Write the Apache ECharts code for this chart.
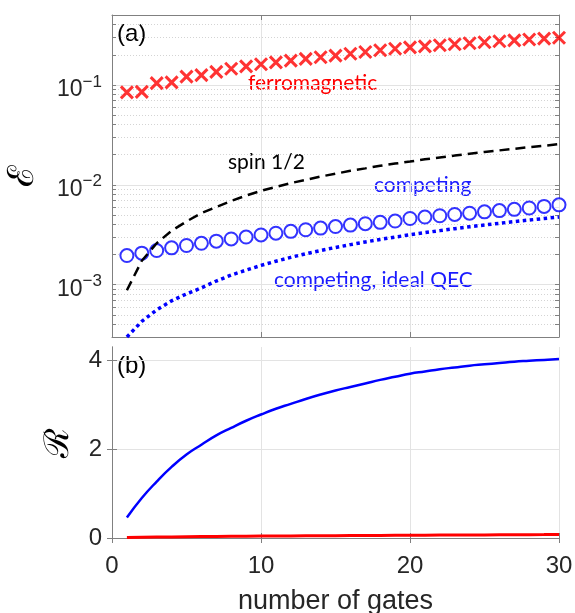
<!DOCTYPE html>
<html>
<head>
<meta charset="utf-8">
<script src="https://cdn.jsdelivr.net/npm/echarts@6/dist/echarts.min.js"></script>
<style>
  html, body { margin: 0; padding: 0; background: #fff; }
  #chart { width: 575px; height: 613px; }
</style>
</head>
<body>
<div id="chart"></div>
<script>
// number of gates
var gates = [1, 2, 3, 4, 5, 6, 7, 8, 9, 10, 11, 12, 13, 14, 15, 16, 17, 18, 19, 20, 21, 22, 23, 24, 25, 26, 27, 28, 29, 30]

// (a) error per gate
var ferromagnetic = [0.084, 0.085, 0.104, 0.106, 0.121, 0.125, 0.135, 0.145, 0.153, 0.161, 0.168, 0.175, 0.182, 0.189, 0.196,
  0.205, 0.213, 0.222, 0.23, 0.237, 0.243, 0.249, 0.255, 0.261, 0.267, 0.273, 0.279, 0.284, 0.29, 0.296]
var competing = [0.00196, 0.00207, 0.0022, 0.00234, 0.00247, 0.0026, 0.00273, 0.00287, 0.003, 0.00315, 0.00328, 0.00342, 0.00355, 0.00369, 0.00382,
  0.00395, 0.00408, 0.00421, 0.00434, 0.0046, 0.00476, 0.0049, 0.00505, 0.0052, 0.00536, 0.00552, 0.00568, 0.00586, 0.00608, 0.0063]
var spinHalf = [0.00088, 0.00174, 0.0026, 0.00347, 0.0043, 0.0052, 0.006, 0.0069, 0.0078, 0.0087, 0.0095, 0.0104, 0.0112, 0.0121, 0.0129,
  0.0138, 0.0146, 0.0155, 0.0163, 0.0171, 0.018, 0.0188, 0.0196, 0.0205, 0.0213, 0.0221, 0.0229, 0.0238, 0.0246, 0.0255]
var competingIdealQEC = [0.0003, 0.00043, 0.00056, 0.00069, 0.00081, 0.00093, 0.00109, 0.00125, 0.0014, 0.00156, 0.00172, 0.00188, 0.00204, 0.0022, 0.00236,
  0.00252, 0.00268, 0.00284, 0.003, 0.00316, 0.00332, 0.00348, 0.00364, 0.0038, 0.00396, 0.00412, 0.00428, 0.00444, 0.0046, 0.00476]

// (b) ratio
var ratioCompeting = [0.46, 0.9, 1.27, 1.6, 1.88, 2.1, 2.31, 2.48, 2.64, 2.78, 2.91, 3.02, 3.13, 3.23, 3.32,
  3.4, 3.48, 3.56, 3.63, 3.7, 3.75, 3.8, 3.84, 3.88, 3.91, 3.94, 3.97, 3.99, 4.01, 4.03]
var ratioFerro = [0.012, 0.016, 0.02, 0.024, 0.028, 0.031, 0.034, 0.037, 0.04, 0.043, 0.045, 0.047, 0.049, 0.051, 0.053,
  0.055, 0.057, 0.059, 0.061, 0.063, 0.064, 0.066, 0.067, 0.069, 0.07, 0.072, 0.073, 0.075, 0.076, 0.078]

// axis ranges / ticks
var errMin = 3e-4
var errMax = 0.5
var decadeTicks = [-3, -2, -1]
var ratioTicks = [0, 2, 4]

var logMin = Math.log10(errMin)
var logMax = Math.log10(errMax)
var minorTicks = []
for (var e = -4; e <= -1; e++) {
  for (var k = 2; k <= 9; k++) {
    var v = Math.log10(k * Math.pow(10, e))
    if (v >= logMin - 1e-9 && v <= logMax + 1e-9) minorTicks.push(v)
  }
}
var allTicks = decadeTicks.concat(minorTicks)

function pairs(ys) {
  return gates.map(function(g, i) { return [g, ys[i]] })
}

var axisGrey = '#808080'
var textCol = '#262626'
var gridCol = '#e3e3e3'
var noteFont = 'Lato'

var chart = echarts.init(document.getElementById('chart'))

var option = {
  animation: false,
  grid: [
    { left: 112, top: 15, right: 16, height: 322, outerBoundsMode: 'none' },
    { left: 112, top: 347, right: 16, height: 191, outerBoundsMode: 'none' }
  ],
  xAxis: [
    {
      gridIndex: 0, type: 'value', min: 0, max: 30, interval: 10, position: 'bottom',
      axisLine: { lineStyle: { color: axisGrey } },
      axisTick: { inside: true, length: 5, lineStyle: { color: axisGrey } },
      axisLabel: { show: false },
      splitLine: { show: true, lineStyle: { color: gridCol, width: 1 } }
    },
    {
      gridIndex: 0, type: 'value', min: 0, max: 30, interval: 10, position: 'top',
      axisLine: { lineStyle: { color: axisGrey } },
      axisTick: { inside: true, length: 5, lineStyle: { color: axisGrey } },
      axisLabel: { show: false },
      splitLine: { show: false }
    },
    {
      gridIndex: 1, type: 'value', min: 0, max: 30, interval: 10, position: 'bottom',
      axisLine: { lineStyle: { color: axisGrey } },
      axisTick: { inside: true, length: 5, lineStyle: { color: axisGrey } },
      axisLabel: { color: textCol, fontSize: 24, fontFamily: 'Liberation Sans', margin: 16 },
      splitLine: { show: true, lineStyle: { color: gridCol, width: 1 } },
      name: 'number of gates', nameLocation: 'middle', nameGap: 50,
      nameTextStyle: { color: textCol, fontSize: 27, fontFamily: 'Liberation Sans' }
    },
    {
      gridIndex: 1, type: 'value', min: 0, max: 30, interval: 10, position: 'top',
      axisLine: { lineStyle: { color: axisGrey } },
      axisTick: { inside: true, length: 5, lineStyle: { color: axisGrey } },
      axisLabel: { show: false },
      splitLine: { show: false }
    }
  ],
  yAxis: [
    // 0: data axis (log), hidden
    { gridIndex: 0, type: 'log', min: errMin, max: errMax, show: false },
    // 1: left axis with labels
    {
      gridIndex: 0, type: 'value', min: logMin, max: logMax, position: 'left',
      axisLine: { show: true, lineStyle: { color: axisGrey } },
      axisTick: { show: true, inside: true, length: 4, customValues: allTicks, lineStyle: { color: axisGrey } },
      axisLabel: {
        customValues: decadeTicks, margin: 10,
        formatter: function(v) { return '{b|10}{s|\u2212' + Math.abs(Math.round(v)) + '}' },
        rich: {
          b: { fontSize: 23, fontFamily: 'Liberation Sans', color: textCol, padding: [10, 0, 0, 0] },
          s: { fontSize: 17, fontFamily: 'Liberation Sans', color: textCol, verticalAlign: 'top', padding: [5, 0, 11, 0] }
        }
      },
      splitLine: { show: false },
      name: '\u2130', nameLocation: 'middle', nameGap: 70, nameRotate: 90,
      nameTextStyle: { color: '#000', fontSize: 36, fontFamily: 'DejaVu Serif' }
    },
    // 2: right box side
    {
      gridIndex: 0, type: 'value', min: logMin, max: logMax, position: 'right',
      axisLine: { show: true, lineStyle: { color: axisGrey } },
      axisTick: { show: true, inside: true, length: 4, customValues: allTicks, lineStyle: { color: axisGrey } },
      axisLabel: { show: false },
      splitLine: { show: false }
    },
    // 3: major grid
    {
      gridIndex: 0, type: 'value', min: logMin, max: logMax,
      axisLine: { show: false },
      axisTick: { show: false, customValues: decadeTicks },
      axisLabel: { show: false },
      splitLine: { show: true, lineStyle: { color: gridCol, width: 1 } }
    },
    // 4: minor grid
    {
      gridIndex: 0, type: 'value', min: logMin, max: logMax,
      axisLine: { show: false },
      axisTick: { show: false, customValues: minorTicks },
      axisLabel: { show: false },
      splitLine: { show: true, lineStyle: { color: '#d4d4d4', width: 1, type: [1, 2] } }
    },
    // 5: ratio axis
    {
      gridIndex: 1, type: 'value', min: 0, max: 4.3, position: 'left',
      axisLine: { show: true, lineStyle: { color: axisGrey } },
      axisTick: { show: true, inside: true, length: 5, customValues: ratioTicks, lineStyle: { color: axisGrey } },
      axisLabel: { customValues: ratioTicks, color: textCol, fontSize: 24, fontFamily: 'Liberation Sans', margin: 10 },
      splitLine: { show: true, lineStyle: { color: gridCol, width: 1 } },
      name: '\u211B', nameLocation: 'middle', nameGap: 36, nameRotate: 90,
      nameTextStyle: { color: '#000', fontSize: 34, fontFamily: 'DejaVu Serif' }
    },
    // 6: right box side
    {
      gridIndex: 1, type: 'value', min: 0, max: 4.3, position: 'right',
      axisLine: { show: true, lineStyle: { color: axisGrey } },
      axisTick: { show: true, inside: true, length: 5, customValues: ratioTicks, lineStyle: { color: axisGrey } },
      axisLabel: { show: false },
      splitLine: { show: false }
    }
  ],
  graphic: [
    { type: 'text', left: 117, top: 22, style: { text: '(a)', fontSize: 24, fontFamily: 'Liberation Sans', fill: '#000' } },
    { type: 'text', left: 117, top: 354, style: { text: '(b)', fontSize: 24, fontFamily: 'Liberation Sans', fill: '#000' } },
    { type: 'text', left: 248, top: 73, style: { text: 'ferromagnetic', fontSize: 21, fontFamily: noteFont, fill: '#ff0000' } },
    { type: 'text', left: 228, top: 152, style: { text: 'spin 1/2', fontSize: 21, fontFamily: noteFont, fill: '#000' } },
    { type: 'text', left: 374, top: 175, style: { text: 'competing', fontSize: 21, fontFamily: noteFont, fill: '#1a1aff' } },
    { type: 'text', left: 274, top: 270, style: { text: 'competing, ideal QEC', fontSize: 21, fontFamily: noteFont, fill: '#1a1aff' } }
  ],
  series: [
    {
      name: 'spin 1/2', type: 'line', xAxisIndex: 0, yAxisIndex: 0,
      data: pairs(spinHalf), showSymbol: false,
      lineStyle: { color: '#000', width: 2.5, type: [10, 6] }
    },
    {
      name: 'competing, ideal QEC', type: 'line', xAxisIndex: 0, yAxisIndex: 0,
      data: pairs(competingIdealQEC), showSymbol: false,
      lineStyle: { color: '#0000ff', width: 3.5, type: [3.5, 3.5] }
    },
    {
      name: 'competing', type: 'scatter', xAxisIndex: 0, yAxisIndex: 0,
      data: pairs(competing), symbol: 'emptyCircle', symbolSize: 13,
      itemStyle: { color: '#0000ff', borderColor: '#0000ff', borderWidth: 2.8 }
    },
    {
      name: 'ferromagnetic', type: 'scatter', xAxisIndex: 0, yAxisIndex: 0,
      data: pairs(ferromagnetic), symbol: 'path://M0,0L10,10M10,0L0,10', symbolSize: 12,
      itemStyle: { color: 'transparent', borderColor: '#ff0000', borderWidth: 3 }
    },
    {
      name: 'R competing', type: 'line', xAxisIndex: 2, yAxisIndex: 5,
      data: pairs(ratioCompeting), showSymbol: false, smooth: true,
      lineStyle: { color: '#0000ff', width: 2.5 }
    },
    {
      name: 'R ferromagnetic', type: 'line', xAxisIndex: 2, yAxisIndex: 5,
      data: pairs(ratioFerro), showSymbol: false,
      lineStyle: { color: '#ff0000', width: 3 }
    }
  ]
}

chart.setOption(option)
</script>
</body>
</html>
